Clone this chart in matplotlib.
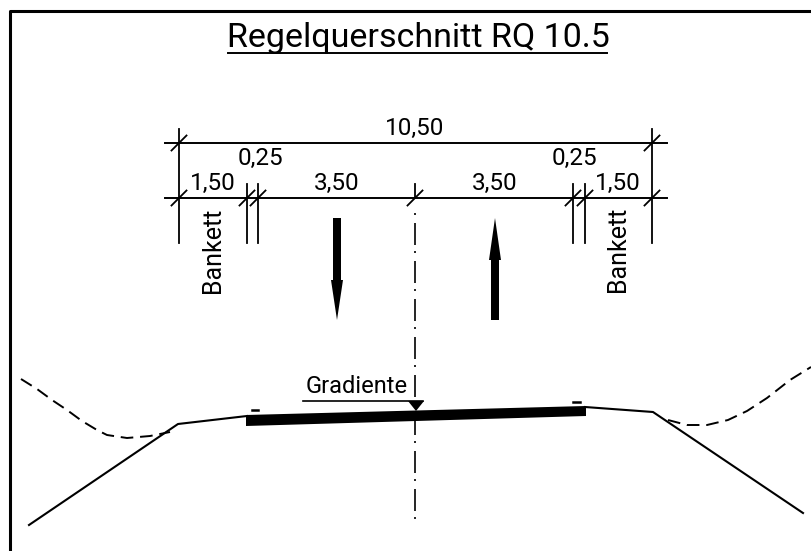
import matplotlib
matplotlib.use('Agg')
import matplotlib.pyplot as plt

# all positions are image pixels, the axes runs 0-811 / 551-0
frame_x = [9.5, 9.5, 811]
frame_y = [551, 11, 11]

# dimension lines
dim_top_y = 143
dim_low_y = 198
dim_x0 = 165
dim_x1 = 667
ext_outer = [179, 652]
ext_inner = [247, 258, 573, 585]
center_x = 415

# dimension texts
dim_labels = ['10,50', '0,25', '0,25', '1,50', '1,50', '3,50', '3,50']
dim_label_x = [415, 260, 574, 213, 618, 337, 495]
dim_label_y = [135, 165, 165, 190, 190, 190, 190]

# ground line and road surface
slope_left_x = [29, 178, 247]
slope_left_y = [525, 424, 416]
slope_right_x = [585, 653, 803]
slope_right_y = [407, 412, 513]
road_x = [246, 586, 586, 246]
road_y = [415, 406, 416, 426]
terrain_left_x = [21, 37, 52, 67, 82, 97, 107, 127, 150, 170]
terrain_left_y = [379, 389, 400, 410, 421, 430, 435, 438, 436, 432]
terrain_right_x = [668, 687, 707, 728, 747, 767, 790, 811]
terrain_right_y = [420, 425, 425, 420, 411, 398, 380, 367]

family = 'Roboto'

fig = plt.figure(figsize=(8.11, 5.51), dpi=100)
ax = fig.add_axes([0, 0, 1, 1])
ax.set_xlim(0, 811)
ax.set_ylim(551, 0)
ax.axis('off')

ax.plot(frame_x, frame_y, color='black', lw=2.2, solid_joinstyle='round')

# dimension chain
ax.plot([dim_x0, dim_x1], [dim_top_y, dim_top_y], color='black', lw=1.4)
ax.plot([dim_x0, dim_x1], [dim_low_y, dim_low_y], color='black', lw=1.4)
for x in ext_outer:
    ax.plot([x, x], [129, 243], color='black', lw=1.3)
for x in ext_inner:
    ax.plot([x, x], [184, 243], color='black', lw=1.3)
ax.plot([center_x, center_x], [184, 198], color='black', lw=1.3)

# slashes on the dimension lines
for x, y in [(179, 143), (652, 143), (179, 198), (652, 198), (247, 198), (258, 198),
             (415, 198), (573, 198), (585, 198)]:
    ax.plot([x - 7.5, x + 7.5], [y + 7.5, y - 7.5], color='black', lw=1.3)

# centre line, dot first
ax.plot([center_x, center_x], [213, 519], color='black', lw=1.2,
        linestyle=(16.8, (13.2, 3.6, 1.2, 4.8)))

for text, x, y in zip(dim_labels, dim_label_x, dim_label_y):
    ax.text(x, y, text, family=family, fontsize=17.5, ha='center', va='baseline', color='black')
ax.text(213, 250, 'Bankett', family=family, fontsize=18, rotation=90, ha='center', va='center')
ax.text(618, 249, 'Bankett', family=family, fontsize=18, rotation=90, ha='center', va='center')

# direction arrows
ax.fill([333, 341, 341, 343, 337, 331, 333], [218, 218, 280, 280, 320, 280, 280], color='black', lw=0)
ax.fill([491, 499, 499, 501, 495, 489, 491], [320, 320, 260, 260, 218, 260, 260], color='black', lw=0)

# cross section
ax.plot(slope_left_x, slope_left_y, color='black', lw=1.5)
ax.plot(slope_right_x, slope_right_y, color='black', lw=1.5)
ax.fill(road_x, road_y, color='black', lw=0)
ax.plot(terrain_left_x, terrain_left_y, color='black', lw=1.4, dashes=(6.5, 3.5))
ax.plot(terrain_right_x, terrain_right_y, color='black', lw=1.4, dashes=(6.5, 3.5))
ax.plot([252, 258], [410, 410], color='black', lw=1.8)
ax.plot([573, 580], [402, 402], color='black', lw=1.8)

# gradient marker
ax.text(357, 393, 'Gradiente', family=family, fontsize=17, ha='center', va='baseline')
ax.plot([303, 423], [401, 401], color='black', lw=1.2)
ax.fill([408, 424, 416], [401, 401, 411], color='black', lw=0)

# title
ax.text(418, 47, 'Regelquerschnitt RQ 10.5', family=family, fontsize=24.5,
        ha='center', va='baseline')
ax.plot([228, 607], [52.5, 52.5], color='black', lw=1.4)

fig.savefig('out.png', dpi=100)
